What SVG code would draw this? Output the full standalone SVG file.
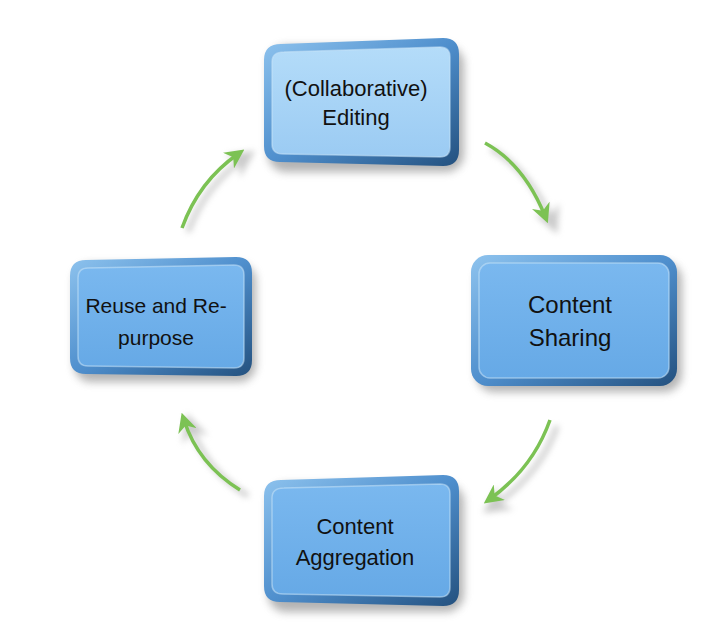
<svg xmlns="http://www.w3.org/2000/svg" width="708" height="643" viewBox="0 0 708 643">
<defs>
<filter id="sh" x="-20%" y="-20%" width="150%" height="150%"><feGaussianBlur stdDeviation="4"/></filter>
<filter id="ash" x="-30%" y="-30%" width="160%" height="160%"><feGaussianBlur stdDeviation="3"/></filter>
<linearGradient id="rim" x1="0" y1="0" x2="1" y2="1">
<stop offset="0" stop-color="#8ec3ee"/><stop offset="0.5" stop-color="#4f8fcd"/><stop offset="1" stop-color="#24517f"/>
</linearGradient>
<linearGradient id="faceL" x1="0" y1="0" x2="0" y2="1">
<stop offset="0" stop-color="#b4dcf9"/><stop offset="1" stop-color="#9bcbf3"/>
</linearGradient>
<linearGradient id="faceM" x1="0" y1="0" x2="0" y2="1">
<stop offset="0" stop-color="#7ab8ef"/><stop offset="1" stop-color="#66a9e6"/>
</linearGradient>
<marker id="ah" viewBox="0 0 10 10" refX="6" refY="5" markerWidth="5.5" markerHeight="5.5" orient="auto" markerUnits="strokeWidth">
<path d="M0,0 L10,5 L0,10 L3,5 Z" fill="#7cc254"/>
</marker>
<marker id="ahs" viewBox="0 0 10 10" refX="6" refY="5" markerWidth="5.5" markerHeight="5.5" orient="auto" markerUnits="strokeWidth">
<path d="M0,0 L10,5 L0,10 L3,5 Z" fill="#999"/>
</marker>
</defs>
<style>
.shadow{fill:#777;opacity:0.55;filter:url(#sh)}
.rim{fill:url(#rim)}
.hl{fill:none;stroke:#c9e4f8;stroke-width:1.5;opacity:0.55}
.lbl{font-family:"Liberation Sans",Arial,sans-serif;fill:#111;text-anchor:middle}
.arr{fill:none;stroke:#7cc254;stroke-width:3.5;marker-end:url(#ah)}
.arrs{fill:none;stroke:#999;stroke-width:5;opacity:0.5;filter:url(#ash);marker-end:url(#ahs)}
</style>

<g id="connectors">
<path class="arrs" d="M188,232 Q205,185 246,157"/>
<path class="arr" d="M182,228 Q199,181 238,154"/>
<path class="arrs" d="M491,149 Q530,170 553,224"/>
<path class="arr" d="M485,143 Q524,164 545,216"/>
<path class="arrs" d="M557,426 Q540,475 492,507"/>
<path class="arr" d="M550,420 Q533,468 490,499"/>
<path class="arrs" d="M248,496 Q205,470 190,424"/>
<path class="arr" d="M240,490 Q198,464 184,420"/>
</g>

<g id="node-editing">
<rect class="shadow" x="268" y="46" width="196" height="126" rx="18"/>
<path class="rim" d="M281,44 L443,38 Q459,38 459,54 L459,150 Q459,166 443,166 L280,162 Q264,162 264,146 L264,60 Q264,44 281,44 Z"/>
<path d="M284,52 L440,47 Q450,47 450,57 L450,147 Q450,157 440,157 L283,154 Q272,154 272,144 L272,62 Q272,52 284,52 Z" fill="url(#faceL)"/>
<path class="hl" d="M284,52 L440,47 Q450,47 450,57 L450,147 Q450,157 440,157 L283,154 Q272,154 272,144 L272,62 Q272,52 284,52 Z"/>
<text class="lbl" x="356" y="96" font-size="22">(Collaborative)</text>
<text class="lbl" x="356" y="125" font-size="22">Editing</text>
</g>

<g id="node-sharing">
<rect class="shadow" x="476" y="262" width="206" height="130" rx="18"/>
<rect class="rim" x="471" y="255" width="206" height="131" rx="17"/>
<rect x="479" y="263" width="190" height="115" rx="11" fill="url(#faceM)"/>
<rect class="hl" x="479" y="263" width="190" height="115" rx="11"/>
<text class="lbl" x="570" y="313" font-size="24">Content</text>
<text class="lbl" x="570" y="346" font-size="24">Sharing</text>
</g>

<g id="node-aggregation">
<rect class="shadow" x="268" y="484" width="196" height="128" rx="18"/>
<path class="rim" d="M281,480 L443,475 Q459,475 459,491 L459,590 Q459,606 443,606 L280,602 Q264,602 264,586 L264,496 Q264,480 281,480 Z"/>
<path d="M284,488 L440,484 Q450,484 450,494 L450,587 Q450,597 440,597 L283,594 Q272,594 272,584 L272,498 Q272,488 284,488 Z" fill="url(#faceM)"/>
<path class="hl" d="M284,488 L440,484 Q450,484 450,494 L450,587 Q450,597 440,597 L283,594 Q272,594 272,584 L272,498 Q272,488 284,488 Z"/>
<text class="lbl" x="355" y="534" font-size="22">Content</text>
<text class="lbl" x="355" y="565" font-size="22">Aggregation</text>
</g>

<g id="node-reuse">
<rect class="shadow" x="74" y="264" width="182" height="118" rx="17"/>
<path class="rim" d="M86,260 L236,257 Q252,257 252,273 L252,360 Q252,376 236,376 L86,374 Q70,374 70,358 L70,276 Q70,260 86,260 Z"/>
<path d="M88,268 L234,265 Q244,265 244,275 L244,358 Q244,368 234,368 L88,366 Q78,366 78,356 L78,278 Q78,268 88,268 Z" fill="url(#faceM)"/>
<path class="hl" d="M88,268 L234,265 Q244,265 244,275 L244,358 Q244,368 234,368 L88,366 Q78,366 78,356 L78,278 Q78,268 88,268 Z"/>
<text class="lbl" x="156" y="313" font-size="21">Reuse and Re-</text>
<text class="lbl" x="156" y="345" font-size="21">purpose</text>
</g>
</svg>
